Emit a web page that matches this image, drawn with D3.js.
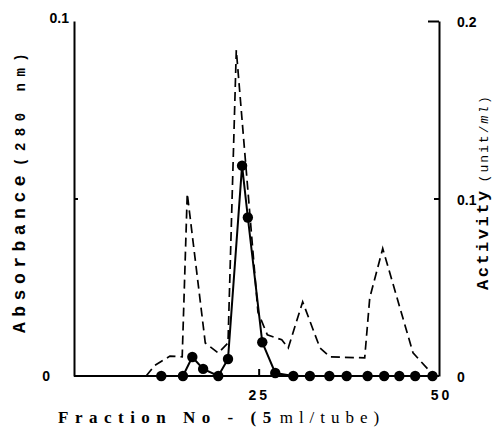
<!DOCTYPE html>
<html lang="en">
  <head>
    <meta charset="utf-8">
    <title>Fraction profile</title>
    <script type="text/javascript" src="https://cdn.jsdelivr.net/npm/d3@7"></script>
    <style type="text/css">
      body { margin: 0; background: #fff; }
      .axis path, .axis line { stroke: #000; stroke-width: 2; }
      .axis text { font-family: "Liberation Sans", Arial, sans-serif; font-weight: bold; font-size: 14px; fill: #000; }
    </style>
  </head>
  <body>
    <script type="text/javascript">

      //Width and height
      var w = 504;
      var h = 439;

      //Absorbance (280 nm), dashed line, left axis
      var absFraction = [9.4, 10.6, 12.7, 14.4, 15.1, 17.6, 19.4, 20.75, 21.9, 24.9, 26.2, 28.2, 29.1, 31.1, 33.5, 34.9, 39.7, 40.4, 42.2, 46.4, 49.2];
      var absValue    = [0, 0.003, 0.0056, 0.0054, 0.0514, 0.0093, 0.0065, 0.0093, 0.0918, 0.018, 0.0116, 0.0102, 0.0079, 0.0209, 0.0079, 0.0054, 0.0051, 0.022, 0.0359, 0.0065, 0.0003];

      //Activity (unit/ml), dots, right axis
      var actFraction = [11.5, 14.5, 15.8, 17.3, 19.4, 20.75, 22.7, 23.5, 25.5, 27.3, 29.8, 32.1, 34.8, 37.2, 40.1, 42.4, 44.5, 46.7, 49.1];
      var actValue    = [0, 0, 0.0107, 0.004, 0, 0.0096, 0.1185, 0.0893, 0.019, 0.0017, 0, 0, 0, 0, 0, 0, 0, 0, 0];

      //Tick labels
      var xTicks = [25, 50];
      var leftTicks = [0, 0.05, 0.1];
      var rightTicks = [0, 0.1, 0.2];

      var absData = absFraction.map(function(f, i) { return { f: f, v: absValue[i] }; });
      var actData = actFraction.map(function(f, i) { return { f: f, v: actValue[i] }; });

      //Scales
      var xScale = d3.scaleLinear().domain([-0.6, 50]).range([74, 439]);
      var yAbs = d3.scaleLinear().domain([0, 0.1]).range([376, 21]);
      var yAct = d3.scaleLinear().domain([0, 0.2]).range([376, 21]);

      var svg = d3.select("body")
                  .append("svg")
                  .attr("width", w)
                  .attr("height", h);

      //Left axis
      var leftAxis = svg.append("g")
         .attr("class", "axis")
         .attr("transform", "translate(74,0)")
         .call(d3.axisLeft(yAbs).tickValues(leftTicks).tickSizeInner(-4).tickSizeOuter(0)
               .tickFormat(function(d) { return d === 0.05 ? "" : (d === 0 ? "0" : "0.1"); }));
      leftAxis.selectAll(".tick text")
         .attr("x", function(d) { return d === 0 ? -24 : -5; })
         .attr("dy", function(d) { return d === 0.1 ? "0.1em" : "0.3em"; });
      leftAxis.selectAll(".tick").filter(function(d) { return d !== 0.05; }).select("line").remove();

      //Right axis
      var rightAxis = svg.append("g")
         .attr("class", "axis")
         .attr("transform", "translate(439,0)")
         .call(d3.axisRight(yAct).tickValues(rightTicks).tickSizeOuter(0).tickPadding(12)
               .tickFormat(function(d) { return d === 0 ? "0" : d3.format(".1f")(d); }));
      rightAxis.selectAll(".tick line")
         .attr("x2", function(d) { return d === 0.2 ? -11 : (d === 0.1 ? -5 : 0); });
      rightAxis.selectAll(".tick text").attr("dy", "0.4em");

      //Bottom axis
      var bottomAxis = svg.append("g")
         .attr("class", "axis")
         .attr("transform", "translate(0,376)")
         .call(d3.axisBottom(xScale).tickValues(xTicks).tickSizeInner(-7).tickSizeOuter(0).tickPadding(14));
      bottomAxis.select(".domain").attr("d", "M74,0H439");
      bottomAxis.selectAll(".tick text").attr("letter-spacing", "3px").attr("dx", function(d) { return d === 50 ? "2" : "0"; });
      bottomAxis.selectAll(".tick").filter(function(d) { return d === 50; }).select("line").remove();

      //Absorbance dashed line
      var absLine = d3.line()
                      .x(function(d) { return xScale(d.f); })
                      .y(function(d) { return yAbs(d.v); });

      svg.append("path")
         .datum(absData)
         .attr("fill", "none")
         .attr("stroke", "#000")
         .attr("stroke-width", 1.7)
         .attr("stroke-dasharray", "9,5")
         .attr("d", absLine);

      //Activity solid line and dots
      var actLine = d3.line()
                      .x(function(d) { return xScale(d.f); })
                      .y(function(d) { return yAct(d.v); });

      svg.append("path")
         .datum(actData)
         .attr("fill", "none")
         .attr("stroke", "#000")
         .attr("stroke-width", 2)
         .attr("d", actLine);

      svg.selectAll("circle")
         .data(actData)
         .enter()
         .append("circle")
         .attr("cx", function(d) { return xScale(d.f); })
         .attr("cy", function(d) { return yAct(d.v); })
         .attr("r", 5.2)
         .attr("fill", "#000");

      //Axis titles
      var leftTitle = svg.append("text")
         .attr("transform", "translate(25,333) rotate(-90)")
         .attr("font-family", "'Liberation Mono', monospace")
         .attr("font-weight", "bold")
         .attr("fill", "#000");
      leftTitle.append("tspan").attr("font-size", "18px").attr("letter-spacing", "5.5px").text("Absorbance");
      leftTitle.append("tspan").attr("font-size", "14px").attr("letter-spacing", "6.5px").attr("dx", "4").text("(280 nm)");

      var rightTitle = svg.append("text")
         .attr("transform", "translate(488,290) rotate(-90)")
         .attr("font-family", "'Liberation Mono', monospace")
         .attr("font-weight", "bold")
         .attr("fill", "#000");
      rightTitle.append("tspan").attr("font-size", "17px").attr("letter-spacing", "2.5px").text("Activity");
      rightTitle.append("tspan").attr("font-size", "13px").attr("font-weight", "normal").attr("letter-spacing", "2px").attr("dx", "6").text("(unit/");
      rightTitle.append("tspan").attr("font-size", "13px").attr("font-weight", "normal").attr("letter-spacing", "2px").attr("font-style", "italic").text("ml");
      rightTitle.append("tspan").attr("font-size", "13px").attr("font-weight", "normal").text(")");

      var xTitle = svg.append("text")
         .attr("x", 58)
         .attr("y", 423)
         .attr("font-family", "'Liberation Serif', serif")
         .attr("font-size", "17px")
         .attr("fill", "#000");
      xTitle.append("tspan").attr("font-weight", "bold").attr("letter-spacing", "6.5px").text("Fraction No - (5");
      xTitle.append("tspan").attr("letter-spacing", "6px").attr("dx", "2").text("ml/tube)");

    </script>
  </body>
</html>
